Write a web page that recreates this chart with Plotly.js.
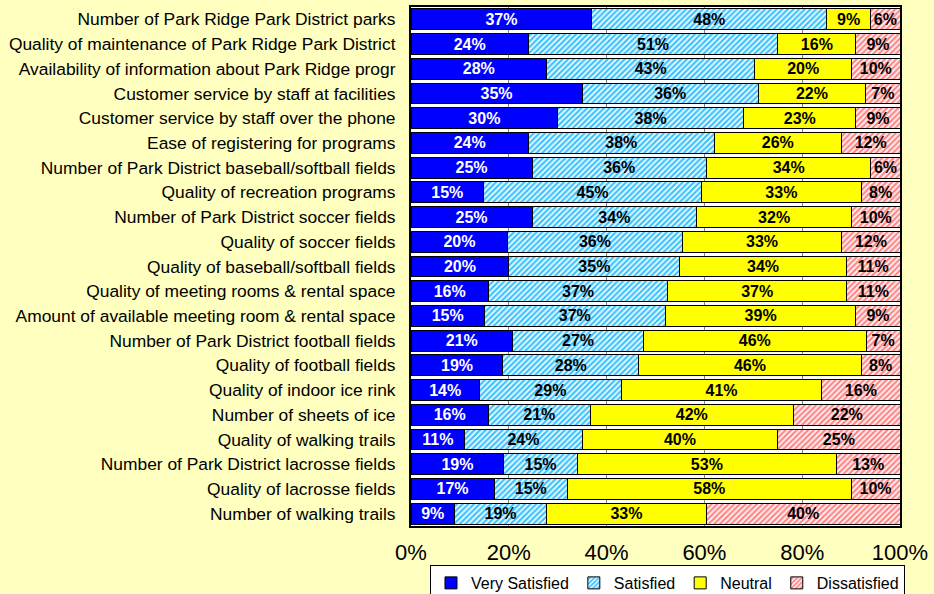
<!DOCTYPE html>
<html>
<head>
<meta charset="utf-8">
<script src="https://cdn.plot.ly/plotly-3.0.1.min.js"></script>
<style>html,body{margin:0;padding:0;background:#FFFFC0;}</style>
</head>
<body>
<div id="chart" style="width:934px;height:594px;"></div>
<script>
const categories = [
  "Number of Park Ridge Park District parks",
  "Quality of maintenance of Park Ridge Park District",
  "Availability of information about Park Ridge progr",
  "Customer service by staff at facilities",
  "Customer service by staff over the phone",
  "Ease of registering for programs",
  "Number of Park District baseball/softball fields",
  "Quality of recreation programs",
  "Number of Park District soccer fields",
  "Quality of soccer fields",
  "Quality of baseball/softball fields",
  "Quality of meeting rooms & rental space",
  "Amount of available meeting room & rental space",
  "Number of Park District football fields",
  "Quality of football fields",
  "Quality of indoor ice rink",
  "Number of sheets of ice",
  "Quality of walking trails",
  "Number of Park District lacrosse fields",
  "Quality of lacrosse fields",
  "Number of walking trails"
];
const verySatisfied = [37,24,28,35,30,24,25,15,25,20,20,16,15,21,19,14,16,11,19,17,9];
const satisfied     = [48,51,43,36,38,38,36,45,34,36,35,37,37,27,28,29,21,24,15,15,19];
const neutral       = [9,16,20,22,23,26,34,33,32,33,34,37,39,46,46,41,42,40,53,58,33];
const dissatisfied  = [6,9,10,7,9,12,6,8,10,12,11,11,9,7,8,16,22,25,13,10,40];
const seriesNames = ["Very Satisfied","Satisfied","Neutral","Dissatisfied"];
const xTickVals = [0,20,40,60,80,100];
const xTickText = ["0%","20%","40%","60%","80%","100%"];

const font = "'Liberation Sans', Arial, sans-serif";
function mk(name, vals, color, textColor, pattern) {
  const t = {
    type: 'bar', orientation: 'h', name: name,
    y: categories, x: vals,
    text: vals.map(v => '<b>' + v + '%</b>'),
    texttemplate: '%{text}',
    textposition: 'inside', insidetextanchor: 'middle',
    constraintext: 'none',
    textfont: {family: font, size: 16, color: textColor},
    marker: {color: color, line: {color: '#000000', width: 1}},
    hoverinfo: 'skip'
  };
  if (pattern) t.marker.pattern = pattern;
  return t;
}
const data = [
  mk(seriesNames[0], verySatisfied, '#0000FF', '#FFFFFF'),
  mk(seriesNames[1], satisfied, '#FFFFFF', '#000000', {shape: '/', fgcolor: '#33C0FF', bgcolor: '#E8F8FF', size: 4, solidity: 0.5}),
  mk(seriesNames[2], neutral, '#FFFF00', '#000000'),
  mk(seriesNames[3], dissatisfied, '#FFFFFF', '#000000', {shape: '/', fgcolor: '#FF8080', bgcolor: '#FFF0F0', size: 4, solidity: 0.5})
];
const layout = {
  width: 934, height: 594,
  paper_bgcolor: '#FFFFC0', plot_bgcolor: '#FFFFFF',
  margin: {l: 411, r: 34, t: 7, b: 68, autoexpand: false},
  barmode: 'stack', barnorm: 'percent', bargap: 0.16,
  font: {family: font, color: '#000000'},
  showlegend: true,
  xaxis: {
    range: [0, 100], tickvals: xTickVals, ticktext: xTickText,
    tickfont: {family: font, size: 22, color: '#000000'},
    showgrid: true, gridcolor: '#808080', gridwidth: 1,
    showline: true, linecolor: '#000000', linewidth: 2, mirror: true,
    ticks: '', ticklen: 0, zeroline: false, fixedrange: true,
    ticklabelstandoff: 6, automargin: false
  },
  yaxis: {
    type: 'category', autorange: 'reversed',
    tickfont: {family: font, size: 17.4, color: '#000000'},
    showline: true, linecolor: '#000000', linewidth: 2, mirror: true,
    ticks: '', ticklen: 0, showgrid: false, fixedrange: true,
    ticklabelstandoff: 10, automargin: false
  },
  legend: {
    orientation: 'h', xref: 'paper', yref: 'paper',
    x: 1.0102, xanchor: 'right', y: -0.0751, yanchor: 'top',
    bgcolor: '#FFFFFF', bordercolor: '#000000', borderwidth: 1,
    font: {family: font, size: 16, color: '#000000'},
    traceorder: 'normal', itemwidth: 30, tracegroupgap: 0
  }
};
Plotly.newPlot('chart', data, layout, {displayModeBar: false, staticPlot: true});
</script>
</body>
</html>
